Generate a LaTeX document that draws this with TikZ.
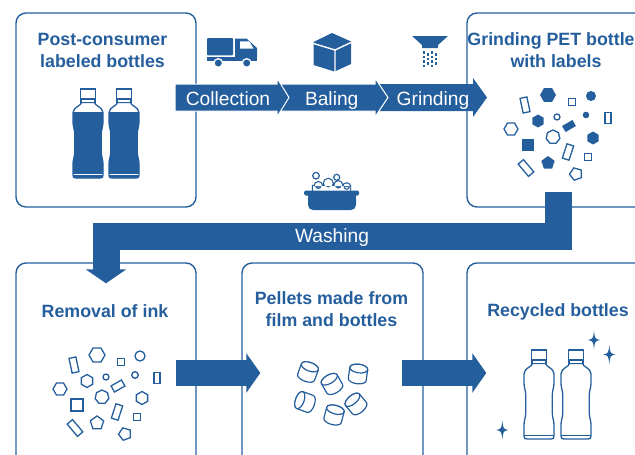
\documentclass[tikz,border=0pt]{standalone}
\usepackage{fontspec}
\setmainfont{Liberation Sans}
\usetikzlibrary{arrows.meta}
\definecolor{pblue}{RGB}{37,94,156}

\tikzset{
  panel/.style={draw=pblue, line width=1.4pt, rounded corners=10pt, inner sep=0pt},
  title/.style={text=pblue, font=\fontsize{17.8}{22.5}\selectfont\bfseries, align=center, anchor=base, inner sep=0pt},
  steptxt/.style={text=white, font=\fontsize{19.2}{23}\selectfont, anchor=base, inner sep=0pt},
  bandseg/.style={fill=pblue, draw=white, line width=1pt, line join=miter},
  bigarrow/.style={draw=pblue, line width=26pt, -{Triangle[width=39pt,length=14pt]}},
  washflow/.style={draw=pblue, line width=27pt, line join=miter, -{Triangle[width=40pt,length=14pt]}},
  gfill/.style={fill=pblue},
  gline/.style={draw=pblue, line width=1.3pt, line join=miter},
  pel/.style={draw=pblue, fill=white, line width=1.2pt},
  bline/.style={draw=pblue, line width=1.3pt},
  bottleshape/.style={insert path={
    (-6.5,13.5) .. controls (-7,17) and (-15,18) .. (-15,24)
    -- (-15,33) .. controls (-15,38) and (-13.3,40) .. (-13.3,45)
    -- (-13.3,63) .. controls (-13.3,68) and (-15,70) .. (-15,75)
    -- (-15,86) .. controls (-15,88.3) and (-14.3,89) .. (-12,89)
    -- (12,89) .. controls (14.3,89) and (15,88.3) .. (15,86)
    -- (15,75) .. controls (15,70) and (13.3,68) .. (13.3,63)
    -- (13.3,45) .. controls (13.3,40) and (15,38) .. (15,33)
    -- (15,24) .. controls (15,18) and (7,17) .. (6.5,13.5) -- cycle}},
}

% grains: rectangle, regular polygon, dot
\newcommand\grect[6]{\begin{scope}[shift={(#2,#3)},rotate=#6]\path[#1] (-#4/2,-#5/2) rectangle (#4/2,#5/2);\end{scope}}
\newcommand\gpoly[6]{\begin{scope}[shift={(#2,#3)}]\path[#1] (#6:#5) \foreach \k in {1,...,#4}{ -- (#6+\k*360/#4:#5)} -- cycle;\end{scope}}
\newcommand\gdot[4]{\path[#1] (#2,#3) circle[radius=#4];}
% #1 style of the solid grains, #2 style of the hollow grains
\newcommand\grains[2]{%
  \grect{#2}{525}{105}{7}{15}{12}
  \gpoly{#1}{548}{95}{6}{8}{0}
  \grect{#2}{572}{102}{7}{7}{0}
  \gdot{#1}{591}{96}{5}
  \gpoly{#1}{538}{121}{6}{6.5}{90}
  \gdot{#2}{557}{117}{3}
  \gdot{#1}{586}{115}{3.3}
  \grect{#1}{569}{126}{12}{7}{30}
  \grect{#2}{608}{118}{6}{11}{0}
  \gpoly{#2}{511}{129}{6}{7}{0}
  \gpoly{#2}{553}{137}{7}{7}{-90}
  \gpoly{#1}{593}{138}{6}{6.5}{90}
  \grect{#1}{528}{145}{12}{12}{0}
  \grect{#2}{568}{152}{7}{15}{-18}
  \grect{#2}{588}{157}{7}{7}{0}
  \grect{#2}{526}{168}{7}{16}{40}
  \gpoly{#1}{548}{163}{5}{7}{-90}
  \gpoly{#2}{576}{174}{5}{6.5}{-110}
}
% bottle with its cap top at (#1,#2); #3 = 1 solid, 0 hollow
\newcommand\bottle[3]{%
  \begin{scope}[shift={(#1,#2)}]
    \ifnum#3=1
      \begin{scope}
        \clip[bottleshape];
        \fill[pblue] (-16,23) rectangle (16,84.5);
        \fill[pblue] (-16,86.3) rectangle (16,91);
      \end{scope}
    \else
      \draw[bline] (-15,85.5) -- (15,85.5);
    \fi
    \path[bline, bottleshape];
    \path[bline, fill=white] (-7,10) rectangle (7,13.5);
    \path[bline, fill=white] (-7.5,0) rectangle (7.5,10);
  \end{scope}}
% pellet cylinder
\newcommand\pellet[3]{%
  \begin{scope}[shift={(#1,#2)}, rotate=#3]
    \path[pel] (-9,-5.5) -- (-9,5.5) arc[start angle=180, end angle=0, x radius=9, y radius=4.3]
      -- (9,-5.5) arc[start angle=0, end angle=-180, x radius=9, y radius=4.3] -- cycle;
    \path[pel] (0,-5.5) ellipse[x radius=9, y radius=4.3];
  \end{scope}}
% four-point sparkle
\newcommand\sparkle[2]{%
  \fill[pblue, shift={(#1,#2)}] (0,-9.5) .. controls (0.9,-1.2) .. (6,0)
    .. controls (0.9,1.2) .. (0,9.5) .. controls (-0.9,1.2) .. (-6,0)
    .. controls (-0.9,-1.2) .. (0,-9.5) -- cycle;}

\begin{document}
\begin{tikzpicture}[x=1pt,y=-1pt]
\useasboundingbox (0,0) rectangle (635,455);
\clip (0,0) rectangle (635,455);

% panels
\node[panel, minimum width=180pt, minimum height=194pt] (b1) at (106,110) {};
\node[panel, minimum width=180pt, minimum height=194pt] (b3) at (557,110) {};
\node[panel, minimum width=180pt, minimum height=204pt] (b4) at (106,365) {};
\node[panel, minimum width=181pt, minimum height=204pt] (b5) at (332.5,365) {};
\node[panel, minimum width=180pt, minimum height=204pt] (b6) at (557,365) {};

% titles (base = baseline of the last line)
\node[title] (t1) at (102.5,67.5) {Post-consumer\\labeled bottles};
\node[title] (t3) at (556,67.5) {Grinding PET bottles\\with labels};
\node[title] (t4) at (105,317.7) {Removal of ink};
\node[title] (t5) at (331.5,326.7) {Pellets made from\\film and bottles};
\node[title] (t6) at (558,316.7) {Recycled bottles};

% bottles
\bottle{88}{89}{1}
\bottle{124}{89}{1}
\bottle{539}{350}{0}
\bottle{576}{350}{0}
\sparkle{594}{340}
\sparkle{609.3}{354.5}
\sparkle{502.3}{430}

% grains
\grains{gfill}{gline}
\begin{scope}[shift={(-451,260)}]
  \grains{gline}{gline}
\end{scope}

% pellets
\pellet{308}{372}{-20}
\pellet{332}{384}{30}
\pellet{358}{374}{-8}
\pellet{305}{402}{70}
\pellet{334}{415}{-15}
\pellet{356}{404}{40}

% process band
\fill[pblue] (370,84) -- (473,84) -- (473,78) -- (487,97.5) -- (473,117) -- (473,111) -- (370,111) -- cycle;
\path[bandseg] (272,84) -- (375,84) -- (375,78) -- (388,97.5) -- (375,117) -- (375,111) -- (272,111) -- cycle;
\path[bandseg] (175,84) -- (277,84) -- (277,78) -- (289,97.5) -- (277,117) -- (277,111) -- (175,111) -- cycle;
\node[steptxt] (s1) at (228,105) {Collection};
\node[steptxt] (s2) at (331.7,105) {Baling};
\node[steptxt] (s3) at (433,105) {Grinding};

% truck
\fill[pblue, rounded corners=1pt] (207,38) rectangle (233,55.3);
\fill[pblue] (235,38.5) -- (246.5,38.5) -- (257,48) -- (257,57) -- (235,57) -- cycle;
\fill[white] (240,41.3) -- (249.3,41.3) -- (253.5,48.7) -- (240,48.7) -- cycle;
\fill[pblue] (207,57) rectangle (257,61);
\filldraw[pblue, draw=white, line width=1.3pt] (218.3,63) circle[radius=4.3];
\filldraw[pblue, draw=white, line width=1.3pt] (246.7,63) circle[radius=4.3];

% cube
\fill[pblue] (332,33) -- (351,41.5) -- (351,64) -- (334.5,71.5) -- (313.5,65) -- (313.5,42) -- cycle;
\draw[white, line width=1.4pt] (313.5,43.5) -- (335,50) -- (351,42.5) (335,50) -- (335,72);

% funnel
\fill[pblue] (412,36) -- (448,36) -- (438,45) -- (438,48) -- (422,48) -- (422,45) -- cycle;
\foreach \cx/\cy in {424/52.5, 424/57, 424/61.5, 424/66, 428/54.5, 428/59, 428/63.5,
                     432/52.5, 432/57, 432/61.5, 432/66, 436/54.5, 436/59, 436/63.5}
  \fill[pblue] (\cx-1,\cy-1.3) rectangle (\cx+1,\cy+1.3);

% wash tub
\draw[pblue, line width=1.2pt] (316,175.7) circle[radius=3.3] (336.7,177.3) circle[radius=3];
\begin{scope}
  \draw[pblue, line width=2.4pt] (318.3,185.7) circle[radius=3.5] (328.3,183.3) circle[radius=4.3]
    (338.3,185) circle[radius=3.7] (346.7,186.7) circle[radius=3.3] (313,186) rectangle (350,191);
  \fill[white] (318.3,185.7) circle[radius=3.5] (328.3,183.3) circle[radius=4.3]
    (338.3,185) circle[radius=3.7] (346.7,186.7) circle[radius=3.3] (313,186) rectangle (350,191);
\end{scope}
\fill[pblue, rounded corners=5pt] (308,194) rectangle (356,210);
\fill[pblue] (308,194) rectangle (356,200);
\fill[pblue, rounded corners=1.5pt] (304,190.5) rectangle (359,195.5);

% flows between panels
\draw[washflow] ([xshift=1pt,yshift=16pt]b3.south) -- ++(0,44.5) -| ([yshift=-21pt]b4.north);
\node[steptxt] (wash) at (332,242.7) {Washing};
\draw[bigarrow] ([xshift=-21pt,yshift=-8pt]b4.east) -- ([xshift=19pt,yshift=-8pt]b5.west);
\draw[bigarrow] ([xshift=-22pt,yshift=-8pt]b5.east) -- ([xshift=20pt,yshift=-8pt]b6.west);
\end{tikzpicture}
\end{document}
